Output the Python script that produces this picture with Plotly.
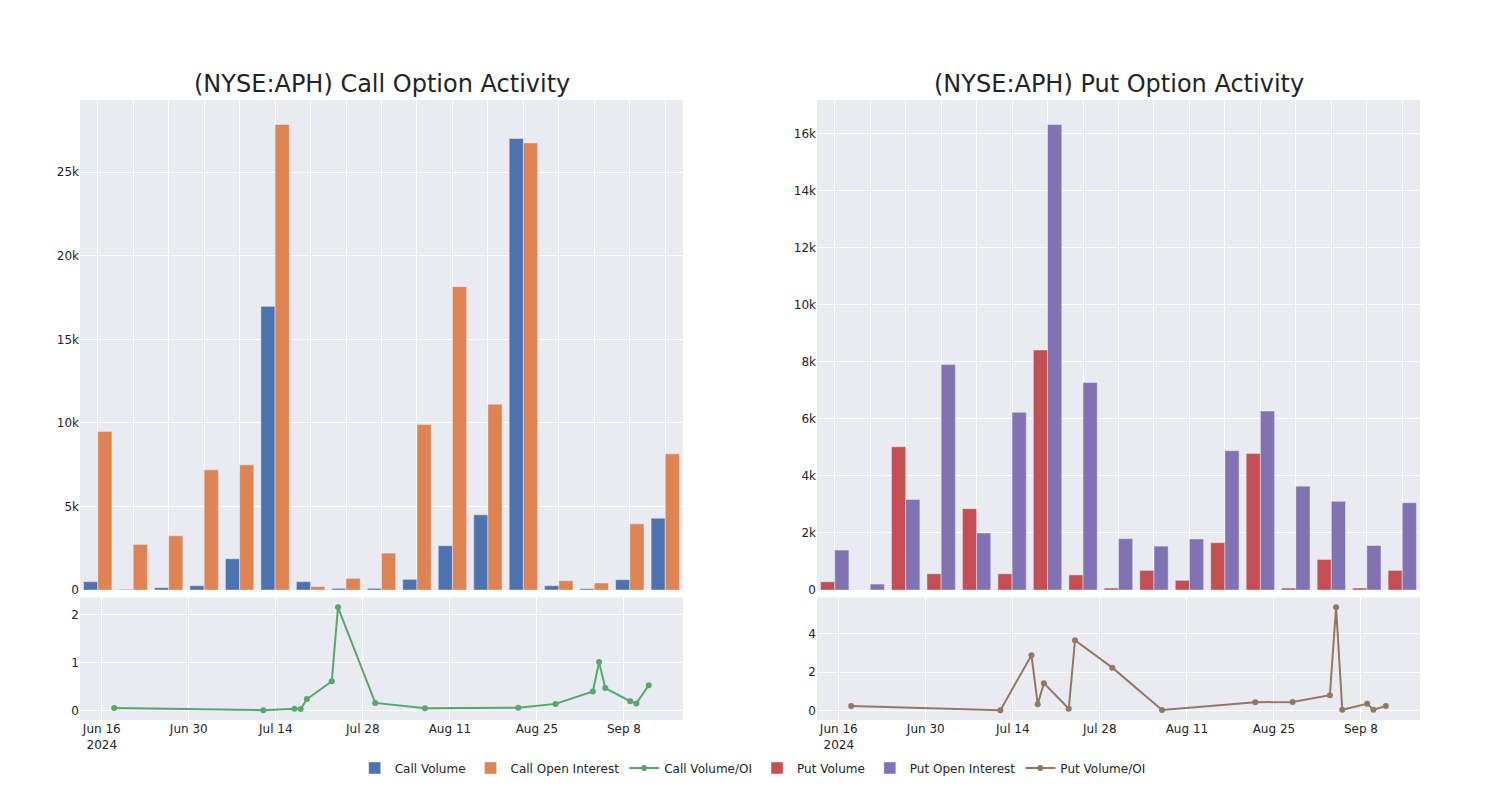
import plotly.graph_objects as go
from plotly.subplots import make_subplots

dates = ["2024-06-18", "2024-07-12", "2024-07-17", "2024-07-18", "2024-07-19",
         "2024-07-23", "2024-07-24", "2024-07-30", "2024-08-07", "2024-08-22",
         "2024-08-28", "2024-09-03", "2024-09-04", "2024-09-05", "2024-09-09",
         "2024-09-10", "2024-09-12"]

call_volume = [500, 40, 140, 260, 1870, 16970, 500, 100, 100, 640,
               2650, 4500, 27010, 260, 80, 620, 4300]
call_oi = [9480, 2730, 3250, 7190, 7490, 27850, 200, 700, 2210, 9900,
           18150, 11120, 26750, 560, 420, 3960, 8150]
call_ratio = [0.056, 0.01, 0.04, 0.035, 0.24, 0.61, 2.15, 0.16, 0.05, 0.06,
              0.14, 0.40, 1.01, 0.47, 0.195, 0.15, 0.53]

put_volume = [290, 0, 5020, 570, 2850, 570, 8410, 530, 70, 690,
              340, 1660, 4780, 70, 1070, 70, 690]
put_oi = [1400, 210, 3170, 7900, 2000, 6230, 16310, 7270, 1800, 1540,
          1790, 4880, 6270, 3640, 3110, 1560, 3060]
put_ratio = [0.23, 0.02, 2.89, 0.33, 1.43, 0.09, 3.67, 2.24, 0.03, 0.43,
             0.45, 0.80, 5.39, 0.04, 0.35, 0.04, 0.23]

titles = ["(NYSE:APH) Call Option Activity", "(NYSE:APH) Put Option Activity"]

fig = make_subplots(rows=2, cols=2, row_heights=[0.8, 0.2],
                    vertical_spacing=0.012, horizontal_spacing=0.1,
                    subplot_titles=[titles[0], titles[1], "", ""])

fig.add_trace(go.Bar(x=dates, y=call_volume, name="Call Volume",
                     marker_color="#4C72B0"), row=1, col=1)
fig.add_trace(go.Bar(x=dates, y=call_oi, name="Call Open Interest",
                     marker_color="#DD8452"), row=1, col=1)
fig.add_trace(go.Scatter(x=dates, y=call_ratio, name="Call Volume/OI",
                         mode="lines+markers", line=dict(color="#55A868", width=2),
                         marker=dict(size=6)), row=2, col=1)
fig.add_trace(go.Bar(x=dates, y=put_volume, name="Put Volume",
                     marker_color="#C44E52"), row=1, col=2)
fig.add_trace(go.Bar(x=dates, y=put_oi, name="Put Open Interest",
                     marker_color="#8172B3"), row=1, col=2)
fig.add_trace(go.Scatter(x=dates, y=put_ratio, name="Put Volume/OI",
                         mode="lines+markers", line=dict(color="#937860", width=2),
                         marker=dict(size=6)), row=2, col=2)

fig.update_layout(
    template="seaborn",
    font=dict(family="DejaVu Sans", size=12, color="rgb(36,36,36)"),
    width=1500, height=800,
    margin=dict(l=72, r=88, t=92, b=88),
    barmode="group",
    legend=dict(orientation="h", x=0.502, xanchor="center", y=-0.054, yanchor="top"),
)
for c in (1, 2):
    fig.update_xaxes(type="category", showticklabels=False, row=1, col=c)
    fig.update_xaxes(type="date", range=["2024-06-12 12:00", "2024-09-17 12:00"],
                     row=2, col=c)
for a in fig.layout.annotations:
    a.font.size = 24

fig.write_html("out.html")
